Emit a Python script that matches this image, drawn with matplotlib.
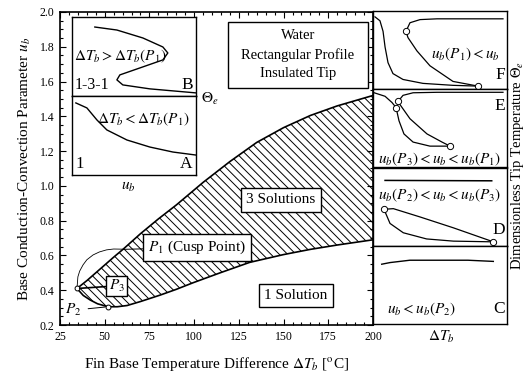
import matplotlib
matplotlib.use("Agg")
import matplotlib.pyplot as plt
from matplotlib.ticker import MultipleLocator
from matplotlib.patches import Rectangle

plt.rcParams['font.family'] = ['Liberation Serif', 'DejaVu Serif']
plt.rcParams['mathtext.fontset'] = 'stix'
plt.rcParams['hatch.linewidth'] = 0.7

# ---------------- data (main diagram) ----------------
upper_dT = [34.5, 40, 45, 50, 55, 60.2, 70, 80, 90, 105, 120, 135, 150, 165, 180, 200]
upper_u = [0.41, 0.455, 0.50, 0.545, 0.59, 0.635, 0.725, 0.81, 0.89, 1.02, 1.14, 1.25, 1.335, 1.405, 1.46, 1.52]
lower_dT = [34.5, 38, 42, 46, 51.8, 57, 62.5, 70, 81, 90, 99.4, 114.5, 131, 150, 165, 180, 200]
lower_u = [0.41, 0.37, 0.343, 0.322, 0.305, 0.305, 0.312, 0.335, 0.372, 0.405, 0.443, 0.50, 0.56, 0.605, 0.635, 0.66, 0.69]
arc_dT = [60.2, 55, 51, 47, 43.5, 40, 37.9, 36, 35, 34.5]
arc_u = [0.636, 0.637, 0.632, 0.62, 0.603, 0.575, 0.546, 0.51, 0.477, 0.41]
P1 = (60.2, 0.635)
P2 = (51.8, 0.305)
P3 = (34.5, 0.41)

# inset A / B (schematic, normalised)
B_x = [0.185, 0.363, 0.573, 0.734, 0.774, 0.734, 0.548, 0.387, 0.363, 0.411, 0.629, 1.0]
B_y = [0.873, 0.835, 0.734, 0.62, 0.544, 0.456, 0.354, 0.266, 0.203, 0.139, 0.089, 0.038]
A_x = [0.032, 0.121, 0.202, 0.282, 0.444, 0.629, 0.815, 1.0]
A_y = [0.911, 0.848, 0.696, 0.57, 0.443, 0.354, 0.291, 0.253]

# right panels (schematic, normalised)
F_low_x = [0.015, 0.052, 0.075, 0.09, 0.112, 0.149, 0.224, 0.373, 0.597, 0.784]
F_low_y = [0.925, 0.875, 0.74, 0.54, 0.34, 0.2, 0.125, 0.075, 0.05, 0.04]
F_mid_x = [0.784, 0.597, 0.425, 0.328, 0.261, 0.246]
F_mid_y = [0.04, 0.1, 0.3, 0.49, 0.66, 0.74]
F_up_x = [0.246, 0.276, 0.351, 0.478, 0.97]
F_up_y = [0.74, 0.85, 0.89, 0.9, 0.9]
F_fold_x = [0.784, 0.246]
F_fold_y = [0.04, 0.74]

E_low_x = [0.0, 0.09, 0.142, 0.172, 0.194, 0.231, 0.299, 0.425, 0.575]
E_low_y = [0.96, 0.91, 0.83, 0.766, 0.597, 0.429, 0.325, 0.273, 0.273]
E_mid_x = [0.575, 0.515, 0.403, 0.276, 0.201, 0.187]
E_mid_y = [0.273, 0.325, 0.429, 0.623, 0.805, 0.844]
E_up_x = [0.187, 0.224, 0.299, 0.478, 0.97]
E_up_y = [0.844, 0.922, 0.955, 0.961, 0.961]
E_fold_x = [0.172, 0.187, 0.575]
E_fold_y = [0.766, 0.844, 0.273]

D_top_x = [0.09, 0.886]
D_top_y = [0.835, 0.83]
D_loopa_x = [0.082, 0.152, 0.351, 0.6, 0.898]
D_loopa_y = [0.466, 0.474, 0.368, 0.229, 0.05]
D_loopb_x = [0.082, 0.127, 0.226, 0.4, 0.6, 0.898]
D_loopb_y = [0.466, 0.285, 0.166, 0.087, 0.059, 0.05]
D_fold_x = [0.082, 0.898]
D_fold_y = [0.466, 0.05]

C_x = [0.065, 0.127, 0.275, 0.709, 0.898]
C_y = [0.764, 0.785, 0.815, 0.815, 0.80]

x_ticks = [25, 50, 75, 100, 125, 150, 175, 200]
y_ticks = [0.2, 0.4, 0.6, 0.8, 1.0, 1.2, 1.4, 1.6, 1.8, 2.0]

W, H = 527, 379
fig = plt.figure(figsize=(W / 100, H / 100), dpi=100)
ax = fig.add_axes([60 / W, 54 / H, 313 / W, 313 / H])
ax.set_xlim(25, 200)
ax.set_ylim(0.2, 2.0)
ax.set_xticks(x_ticks)
ax.set_yticks(y_ticks)
ax.set_xticklabels([str(t) for t in x_ticks])
ax.set_yticklabels(['%.1f' % t for t in y_ticks])
ax.xaxis.set_minor_locator(MultipleLocator(5))
ax.yaxis.set_minor_locator(MultipleLocator(0.05))
ax.tick_params(which='both', direction='in', top=True, right=True, labelsize=8.5, width=0.8, pad=4)
ax.tick_params(which='major', length=4)
ax.tick_params(which='minor', length=2)
for s in ax.spines.values():
    s.set_linewidth(1.2)
ax.set_xlabel(r'Fin Base Temperature Difference $\Delta T_b$ [$^{\rm o}$C]', fontsize=11, labelpad=9)
ax.set_ylabel(r'Base Conduction-Convection Parameter $u_b$', fontsize=11, labelpad=5)

# hatched 3-solution region
poly_x = upper_dT + lower_dT[::-1]
poly_y = upper_u + lower_u[::-1]
ax.fill(poly_x, poly_y, facecolor='none', edgecolor='black', hatch='\\\\\\\\', linewidth=0)
ax.plot(upper_dT, upper_u, color='black', lw=1.2)
ax.plot(lower_dT, lower_u, color='black', lw=1.2)
ax.plot(arc_dT, arc_u, color='black', lw=0.6)
ax.plot([P2[0], P3[0]], [P2[1], P3[1]], 'o', ms=3.5, mfc='white', mec='black', mew=0.7, ls='none')

box = dict(boxstyle='square,pad=0.3', fc='white', ec='black', lw=1.0)
ax.annotate(r'$P_1$ (Cusp Point)', xy=P1, xytext=(101.6, 0.646), ha='center', va='center',
            fontsize=11, bbox=box, arrowprops=dict(arrowstyle='-', lw=0.7, shrinkA=0, shrinkB=0))
ax.annotate(r'$P_3$', xy=P3, xytext=(56.6, 0.425), ha='center', va='center',
            fontsize=11, bbox=dict(boxstyle='square,pad=0.15', fc='white', ec='black', lw=1.0),
            arrowprops=dict(arrowstyle='-', lw=1.2, shrinkA=0, shrinkB=2))
ax.annotate(r'$P_2$', xy=P2, xytext=(32.3, 0.285), ha='center', va='center', fontsize=11,
            arrowprops=dict(arrowstyle='-', lw=0.7, shrinkA=3, shrinkB=2))
ax.text(148.6, 0.92, '3 Solutions', ha='center', va='center', fontsize=11,
        bbox=dict(boxstyle='square,pad=0.35', fc='white', ec='black', lw=1.0))
ax.text(157, 0.37, '1 Solution', ha='center', va='center', fontsize=11,
        bbox=dict(boxstyle='square,pad=0.35', fc='white', ec='black', lw=1.0))

# Water box
ax.add_patch(Rectangle((0.537, 0.757), 0.447, 0.211, transform=ax.transAxes,
                       fc='white', ec='black', lw=1.0, zorder=3))
for yy, s in zip([0.925, 0.862, 0.803], ['Water', 'Rectangular Profile', 'Insulated Tip']):
    ax.text(0.76, yy, s, transform=ax.transAxes, ha='center', va='center', fontsize=10.5, zorder=4)

# inset A/B
axB = ax.inset_axes([0.038, 0.732, 0.396, 0.252])
axA = ax.inset_axes([0.038, 0.479, 0.396, 0.253])
for a in (axA, axB):
    a.set_xlim(0, 1)
    a.set_ylim(0, 1)
    a.set_xticks([])
    a.set_yticks([])
    for s in a.spines.values():
        s.set_linewidth(1.0)
axB.plot(B_x, B_y, color='black', lw=1.0)
axA.plot(A_x, A_y, color='black', lw=1.0)
axB.text(0.02, 0.50, r'$\Delta T_b > \Delta T_b(P_1)$', fontsize=11, va='center', ha='left')
axB.text(0.025, 0.04, '1-3-1', fontsize=11.5, va='bottom', ha='left')
axB.text(0.975, 0.04, 'B', fontsize=12.5, va='bottom', ha='right')
axA.text(0.58, 0.71, r'$\Delta T_b < \Delta T_b(P_1)$', fontsize=11, va='center', ha='center')
axA.text(0.025, 0.04, '1', fontsize=12, va='bottom', ha='left')
axA.text(0.975, 0.04, 'A', fontsize=12.5, va='bottom', ha='right')
ax.text(0.449, 0.722, r'$\Theta_e$', transform=ax.transAxes, fontsize=11, ha='left', va='center')
ax.text(0.217, 0.44, r'$u_b$', transform=ax.transAxes, fontsize=11, ha='center', va='center')

# right panels
ph = 313 / 4.0
panels = []
for i in range(4):
    top = 11 + i * ph
    pa = fig.add_axes([373 / W, (H - top - ph) / H, 134 / W, ph / H])
    pa.set_xlim(0, 1)
    pa.set_ylim(0, 1)
    pa.set_xticks([])
    pa.set_yticks([])
    for s in pa.spines.values():
        s.set_linewidth(1.0)
    panels.append(pa)
pF, pE, pD, pC = panels
mk = dict(marker='o', ms=4.5, mfc='white', mec='black', mew=0.7, ls='none', zorder=5)
for xs, ys in [(F_low_x, F_low_y), (F_mid_x, F_mid_y), (F_up_x, F_up_y)]:
    pF.plot(xs, ys, color='black', lw=0.9)
pF.plot(F_fold_x, F_fold_y, **mk)
pF.text(0.69, 0.45, r'$u_b(P_1) < u_b$', fontsize=11, ha='center', va='center')
pF.text(0.985, 0.08, 'F', fontsize=12.5, ha='right', va='bottom')

for xs, ys in [(E_low_x, E_low_y), (E_mid_x, E_mid_y), (E_up_x, E_up_y)]:
    pE.plot(xs, ys, color='black', lw=0.9)
pE.plot(E_fold_x, E_fold_y, **mk)
pE.text(0.5, 0.1, r'$u_b(P_3) < u_b < u_b(P_1)$', fontsize=11, ha='center', va='center')
pE.text(0.985, 0.78, 'E', fontsize=12.5, ha='right', va='center')

pD.plot(D_top_x, D_top_y, color='black', lw=1.1)
pD.plot(D_loopa_x, D_loopa_y, color='black', lw=0.9)
pD.plot(D_loopb_x, D_loopb_y, color='black', lw=0.9)
pD.plot(D_fold_x, D_fold_y, **mk)
pD.text(0.5, 0.64, r'$u_b(P_2) < u_b < u_b(P_3)$', fontsize=11, ha='center', va='center')
pD.text(0.985, 0.2, 'D', fontsize=12.5, ha='right', va='center')

pC.plot(C_x, C_y, color='black', lw=1.0)
pC.text(0.36, 0.19, r'$u_b < u_b(P_2)$', fontsize=11, ha='center', va='center')
pC.text(0.985, 0.19, 'C', fontsize=12.5, ha='right', va='center')

fig.text(441 / W, (H - 337) / H, r'$\Delta T_b$', fontsize=11, ha='center', va='center')
fig.text(517 / W, (H - 165) / H, r'Dimensionless Tip Temperature $\Theta_e$', fontsize=10.5,
         rotation=90, ha='center', va='center')

fig.savefig('out.png', dpi=100)
